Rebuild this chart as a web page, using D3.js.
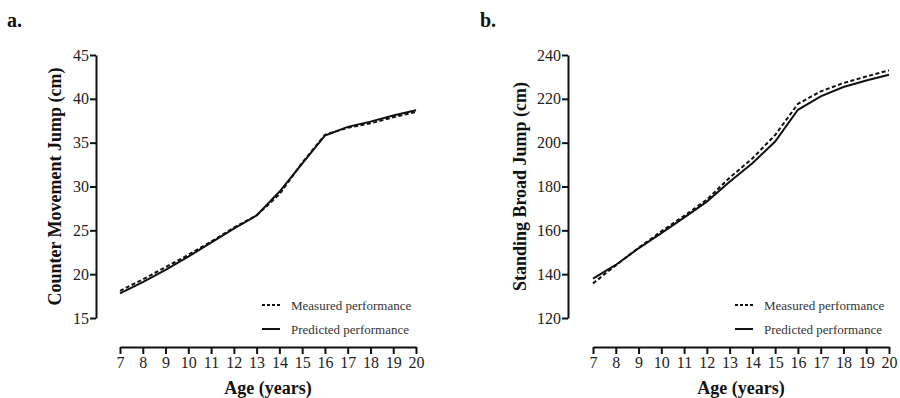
<!DOCTYPE html>
<html>
<head>
<meta charset="utf-8">
<script src="https://cdn.jsdelivr.net/npm/d3@7"></script>
<style>
  body { margin: 0; background: #fff; }
  svg { display: block; }
  text { font-family: "Liberation Serif", "DejaVu Serif", serif; }
</style>
</head>
<body>
<svg id="chart" width="900" height="398"></svg>
<script>
// data
const ages = [7, 8, 9, 10, 11, 12, 13, 14, 15, 16, 17, 18, 19, 20];
const cmjMeasured = [18.1, 19.4, 20.8, 22.2, 23.7, 25.3, 26.7, 29.1, 32.7, 35.9, 36.7, 37.2, 37.9, 38.5];
const cmjPredicted = [17.8, 19.1, 20.5, 22.0, 23.6, 25.2, 26.7, 29.4, 32.6, 35.8, 36.8, 37.4, 38.1, 38.7];
const sbjMeasured = [135.8, 144.0, 152.0, 159.5, 166.6, 174.0, 184.0, 192.8, 203.5, 217.7, 223.4, 227.2, 230.2, 233.0];
const sbjPredicted = [138.0, 144.2, 151.8, 158.7, 165.8, 173.1, 182.2, 190.6, 200.5, 215.0, 221.1, 225.4, 228.4, 231.0];
const cmjTicks = [15, 20, 25, 30, 35, 40, 45];
const sbjTicks = [120, 140, 160, 180, 200, 220, 240];
const legendLabels = ["Measured performance", "Predicted performance"];

const svg = d3.select('#chart');
const serif = 'Liberation Serif, DejaVu Serif, serif';

// layout for the two panels
const panels = [
    {
        letter: 'a.', letterX: 7,
        axisX: 96, plotX0: 120, plotX1: 416,
        yLabel: 'Counter Movement Jump (cm)', yLabelX: 55,
        yTicks: cmjTicks, measured: cmjMeasured, predicted: cmjPredicted
    },
    {
        letter: 'b.', letterX: 480,
        axisX: 568, plotX0: 593, plotX1: 889,
        yLabel: 'Standing Broad Jump (cm)', yLabelX: 520,
        yTicks: sbjTicks, measured: sbjMeasured, predicted: sbjPredicted
    }
];

const yTop = 55, yBottom = 318, xAxisY = 347;

function styleAxis(g) {
    g.attr('font-family', serif);
    g.select('.domain').attr('stroke', '#111').attr('stroke-width', 2);
    g.selectAll('.tick line').attr('stroke', '#111').attr('stroke-width', 2);
    g.selectAll('.tick text')
        .attr('fill', '#222')
        .attr('font-family', serif)
        .style('font-size', '16px');
}

panels.forEach(function(p) {
    const x = d3.scaleLinear()
        .domain([d3.min(ages), d3.max(ages)])
        .range([p.plotX0, p.plotX1]);
    const y = d3.scaleLinear()
        .domain([d3.min(p.yTicks), d3.max(p.yTicks)])
        .range([yBottom, yTop]);

    // panel letter
    svg.append('text')
        .attr('x', p.letterX)
        .attr('y', 27)
        .style('font-size', '20px')
        .style('font-weight', 'bold')
        .attr('fill', '#111')
        .text(p.letter);

    // Y axis
    const gy = svg.append('g')
        .attr('transform', 'translate(' + p.axisX + ',0)')
        .call(d3.axisLeft(y).tickValues(p.yTicks).tickSize(6).tickSizeOuter(0).tickPadding(1));
    styleAxis(gy);

    // X axis (offset below the plot)
    const gx = svg.append('g')
        .attr('transform', 'translate(0,' + xAxisY + ')')
        .call(d3.axisBottom(x).tickValues(ages).tickSize(7).tickSizeOuter(0).tickPadding(3));
    styleAxis(gx);

    // axis titles
    svg.append('text')
        .attr('transform', 'translate(' + p.yLabelX + ',' + ((yTop + yBottom) / 2) + ')rotate(-90)')
        .attr('text-anchor', 'middle')
        .attr('dominant-baseline', 'central')
        .style('font-size', '18px')
        .style('font-weight', 'bold')
        .attr('fill', '#111')
        .text(p.yLabel);
    svg.append('text')
        .attr('x', (p.plotX0 + p.plotX1) / 2)
        .attr('y', 394)
        .attr('text-anchor', 'middle')
        .style('font-size', '18px')
        .style('font-weight', 'bold')
        .attr('fill', '#111')
        .text('Age (years)');

    const line = d3.line()
        .x(function(d, i) { return x(ages[i]); })
        .y(function(d) { return y(d); });

    // Lines
    svg.append('path')
        .datum(p.predicted)
        .attr('d', line)
        .attr('fill', 'none')
        .attr('stroke', '#111')
        .attr('stroke-width', 2);
    svg.append('path')
        .datum(p.measured)
        .attr('d', line)
        .attr('fill', 'none')
        .attr('stroke', '#111')
        .attr('stroke-width', 2)
        .attr('stroke-dasharray', '4,2.5');

    // legend
    const lx = p.plotX0 + 142;
    const rows = [305, 329];
    legendLabels.forEach(function(label, i) {
        svg.append('line')
            .attr('x1', lx).attr('x2', lx + 18)
            .attr('y1', rows[i]).attr('y2', rows[i])
            .attr('stroke', '#111')
            .attr('stroke-width', 2)
            .attr('stroke-dasharray', i === 0 ? '3,2' : null);
        svg.append('text')
            .attr('x', lx + 29)
            .attr('y', rows[i])
            .attr('dominant-baseline', 'central')
            .style('font-size', '13px')
            .attr('fill', '#333')
            .text(label);
    });
});
</script>
</body>
</html>
